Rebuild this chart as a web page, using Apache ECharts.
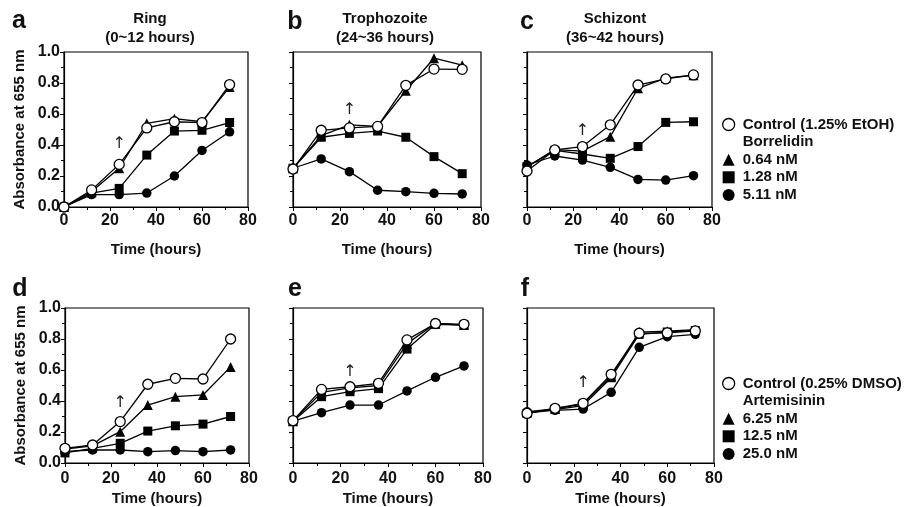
<!DOCTYPE html>
<html><head><meta charset="utf-8">
<script src="https://cdn.jsdelivr.net/npm/echarts@6/dist/echarts.min.js"></script>
<style>html,body{margin:0;padding:0;background:#fff}#c{width:912px;height:507px}</style>
</head><body><div id="c"></div>
<script>
// ---- data ----
const times = [0, 12, 24, 36, 48, 60, 72];

// a: Ring (Borrelidin)
const aControl = [0.00, 0.11, 0.275, 0.51, 0.55, 0.545, 0.79];
const aLow     = [0.00, 0.10, 0.25, 0.54, 0.57, 0.55, 0.775];
const aMid     = [0.00, 0.09, 0.12, 0.335, 0.49, 0.495, 0.545];
const aHigh    = [0.00, 0.08, 0.08, 0.09, 0.20, 0.365, 0.485];
// b: Trophozoite (Borrelidin)
const bControl = [0.245, 0.495, 0.51, 0.52, 0.785, 0.89, 0.888];
const bLow     = [0.25, 0.46, 0.53, 0.52, 0.75, 0.96, 0.915];
const bMid     = [0.25, 0.45, 0.475, 0.49, 0.45, 0.325, 0.215];
const bHigh    = [0.25, 0.31, 0.228, 0.108, 0.099, 0.088, 0.084];
// c: Schizont (Borrelidin)
const cControl = [0.232, 0.368, 0.39, 0.53, 0.787, 0.826, 0.852];
const cLow     = [0.26, 0.37, 0.36, 0.454, 0.766, 0.832, 0.85];
const cMid     = [0.26, 0.365, 0.342, 0.314, 0.39, 0.546, 0.55];
const cHigh    = [0.271, 0.329, 0.303, 0.256, 0.178, 0.174, 0.202];
// d: Ring (Artemisinin)
const dControl = [0.095, 0.116, 0.267, 0.508, 0.546, 0.542, 0.80];
const dLow     = [0.09, 0.11, 0.202, 0.374, 0.428, 0.439, 0.62];
const dMid     = [0.065, 0.095, 0.127, 0.206, 0.24, 0.251, 0.30];
const dHigh    = [0.075, 0.084, 0.084, 0.073, 0.08, 0.073, 0.084];
// e: Trophozoite (Artemisinin)
const eControl = [0.273, 0.475, 0.492, 0.514, 0.794, 0.90, 0.895];
const eLow     = [0.27, 0.455, 0.485, 0.50, 0.77, 0.90, 0.89];
const eMid     = [0.27, 0.428, 0.46, 0.48, 0.735, 0.895, 0.89];
const eHigh    = [0.27, 0.325, 0.374, 0.374, 0.465, 0.553, 0.626];
// f: Schizont (Artemisinin)
const fControl = [0.32, 0.353, 0.385, 0.572, 0.837, 0.84, 0.852];
const fLow     = [0.33, 0.35, 0.38, 0.56, 0.845, 0.85, 0.86];
const fMid     = [0.32, 0.345, 0.37, 0.55, 0.83, 0.845, 0.855];
const fHigh    = [0.33, 0.34, 0.348, 0.456, 0.746, 0.815, 0.83];

const topNames    = ['Control (1.25% EtOH)', 'Borrelidin', '0.64 nM', '1.28 nM', '5.11 nM'];
const bottomNames = ['Control (0.25% DMSO)', 'Artemisinin', '6.25 nM', '12.5 nM', '25.0 nM'];
const panelLetters = ['a', 'b', 'c', 'd', 'e', 'f'];
const panelTitles = ['Ring\n(0~12 hours)', 'Trophozoite\n(24~36 hours)', 'Schizont\n(36~42 hours)', '', '', ''];
const arrowTime = 24;
const arrowY = [0.41, 0.63, 0.49, 0.39, 0.59, 0.52];
const xTitle = 'Time (hours)';
const yTitle = 'Absorbance at 655 nm';

const panelData = [
  [aControl, aLow, aMid, aHigh], [bControl, bLow, bMid, bHigh], [cControl, cLow, cMid, cHigh],
  [dControl, dLow, dMid, dHigh], [eControl, eLow, eMid, eHigh], [fControl, fLow, fMid, fHigh]
];

// ---- layout ----
const grids = [
  {left: 64, top: 52, width: 184, height: 155},
  {left: 293, top: 52, width: 188, height: 155},
  {left: 527, top: 52, width: 185, height: 155},
  {left: 65, top: 308, width: 184, height: 155},
  {left: 293, top: 308, width: 190, height: 155},
  {left: 527, top: 308, width: 187, height: 155}
];
const titleX = [150, 385, 615];
const letterPos = [[19, 21], [295, 22], [527, 22], [20, 289], [295, 289], [525, 289]];

const FONT = 'Liberation Sans';
const TXT = '#111';
const LINE = '#000';

const symbols = [
  {symbol: 'circle', size: 10, style: {color: '#fff', borderColor: LINE, borderWidth: 1.3}},
  {symbol: 'triangle', size: 10, style: {color: LINE, borderWidth: 0}},
  {symbol: 'rect', size: 9, style: {color: LINE, borderWidth: 0}},
  {symbol: 'circle', size: 9.5, style: {color: LINE, borderWidth: 0}}
];

const option = {
  animation: false,
  backgroundColor: '#fff',
  grid: grids.map(g => Object.assign({show: true, borderColor: LINE, borderWidth: 1.2, backgroundColor: 'transparent', containLabel: false, outerBoundsMode: 'none'}, g)),
  xAxis: [], yAxis: [], series: [], graphic: [], legend: []
};

grids.forEach((g, i) => {
  const bottomRow = i >= 3;
  option.xAxis.push({
    type: 'value', gridIndex: i, min: 0, max: 80, interval: 20,
    axisLine: {show: true, lineStyle: {color: LINE, width: 1.2}},
    axisTick: {show: true, length: 4, lineStyle: {color: LINE, width: 1}},
    minorTick: {show: true, splitNumber: 2, length: 3, lineStyle: {color: LINE, width: 1}},
    splitLine: {show: false}, minorSplitLine: {show: false},
    axisLabel: {show: true, margin: bottomRow ? 8 : 6, color: TXT, fontFamily: FONT, fontWeight: 'bold', fontSize: 16, showMinLabel: true, showMaxLabel: true},
    name: xTitle, nameLocation: 'middle', nameGap: bottomRow ? 28 : 35,
    nameTextStyle: {color: TXT, fontFamily: FONT, fontWeight: 'bold', fontSize: 15}
  });
  const showY = (i === 0 || i === 3);
  option.yAxis.push({
    type: 'value', gridIndex: i, min: 0, max: 1, interval: 0.2,
    axisLine: {show: true, lineStyle: {color: LINE, width: 1.2}},
    axisTick: {show: true, length: 4, lineStyle: {color: LINE, width: 1}},
    minorTick: {show: true, splitNumber: 2, length: 3, lineStyle: {color: LINE, width: 1}},
    splitLine: {show: false}, minorSplitLine: {show: false},
    axisLabel: {show: showY, margin: 4, color: TXT, fontFamily: FONT, fontWeight: 'bold', fontSize: 16,
      formatter: v => v.toFixed(1), showMinLabel: true, showMaxLabel: true},
    name: showY ? yTitle : '', nameLocation: 'middle', nameGap: 37, nameRotate: 90,
    nameTextStyle: {color: TXT, fontFamily: FONT, fontWeight: 'bold', fontSize: 15}
  });

  const names = bottomRow ? bottomNames : topNames;
  const seriesNames = [names[0], names[2], names[3], names[4]];
  // draw highest dose first, control last (on top)
  [3, 2, 1, 0].forEach(k => {
    const sym = symbols[k];
    const s = {
      type: 'line', name: seriesNames[k], xAxisIndex: i, yAxisIndex: i,
      data: times.map((t, j) => [t, panelData[i][k][j]]),
      symbol: sym.symbol, symbolSize: sym.size, showSymbol: true,
      lineStyle: {color: LINE, width: 1.3},
      itemStyle: Object.assign({}, sym.style),
      emphasis: {disabled: true}, silent: true, z: 3 + (3 - k)
    };
    if (k === 0) {
      s.markPoint = {
        silent: true, symbol: 'circle', symbolSize: 1,
        itemStyle: {color: 'transparent'},
        label: {show: true, position: 'inside', formatter: '\u2191', fontSize: 16, color: '#222', fontFamily: 'DejaVu Sans', fontWeight: 'normal'},
        data: [{coord: [arrowTime, arrowY[i]]}]
      };
    }
    option.series.push(s);
  });

  // panel letter
  option.graphic.push({
    type: 'text', x: letterPos[i][0], y: letterPos[i][1], silent: true,
    style: {text: panelLetters[i], fill: TXT, font: 'bold 25px "' + FONT + '"', align: 'center', verticalAlign: 'middle'}
  });
  if (panelTitles[i]) {
    option.graphic.push({
      type: 'text', x: titleX[i], y: 28, silent: true,
      style: {text: panelTitles[i], fill: TXT, font: 'bold 15px "' + FONT + '"', lineHeight: 19, align: 'center', verticalAlign: 'middle'}
    });
  }
});

// header entries (no marks) for legend
option.series.push({type: 'line', name: topNames[1], xAxisIndex: 2, yAxisIndex: 2, data: []});
option.series.push({type: 'line', name: bottomNames[1], xAxisIndex: 5, yAxisIndex: 5, data: []});

function legendFor(names, top) {
  const icons = ['circle', 'rect', 'triangle', 'rect', 'circle'];
  const styles = [
    {color: '#fff', borderColor: LINE, borderWidth: 1.3},
    {color: 'transparent', borderWidth: 0, opacity: 0},
    {color: LINE, borderWidth: 0},
    {color: LINE, borderWidth: 0},
    {color: LINE, borderWidth: 0}
  ];
  return {
    orient: 'vertical', left: 717, top: top, itemWidth: 12, itemHeight: 12, itemGap: 2.6,
    selectedMode: false,
    textStyle: {color: TXT, fontFamily: FONT, fontWeight: 'bold', fontSize: 15, lineHeight: 14, padding: [0, 0, 0, 3]},
    data: names.map((n, j) => ({name: n, icon: icons[j], itemStyle: styles[j]}))
  };
}
option.legend.push(legendFor(topNames, 112));
option.legend.push(legendFor(bottomNames, 371));

const chart = echarts.init(document.getElementById('c'), null, {renderer: 'canvas'});
chart.setOption(option);
</script>
</body></html>
